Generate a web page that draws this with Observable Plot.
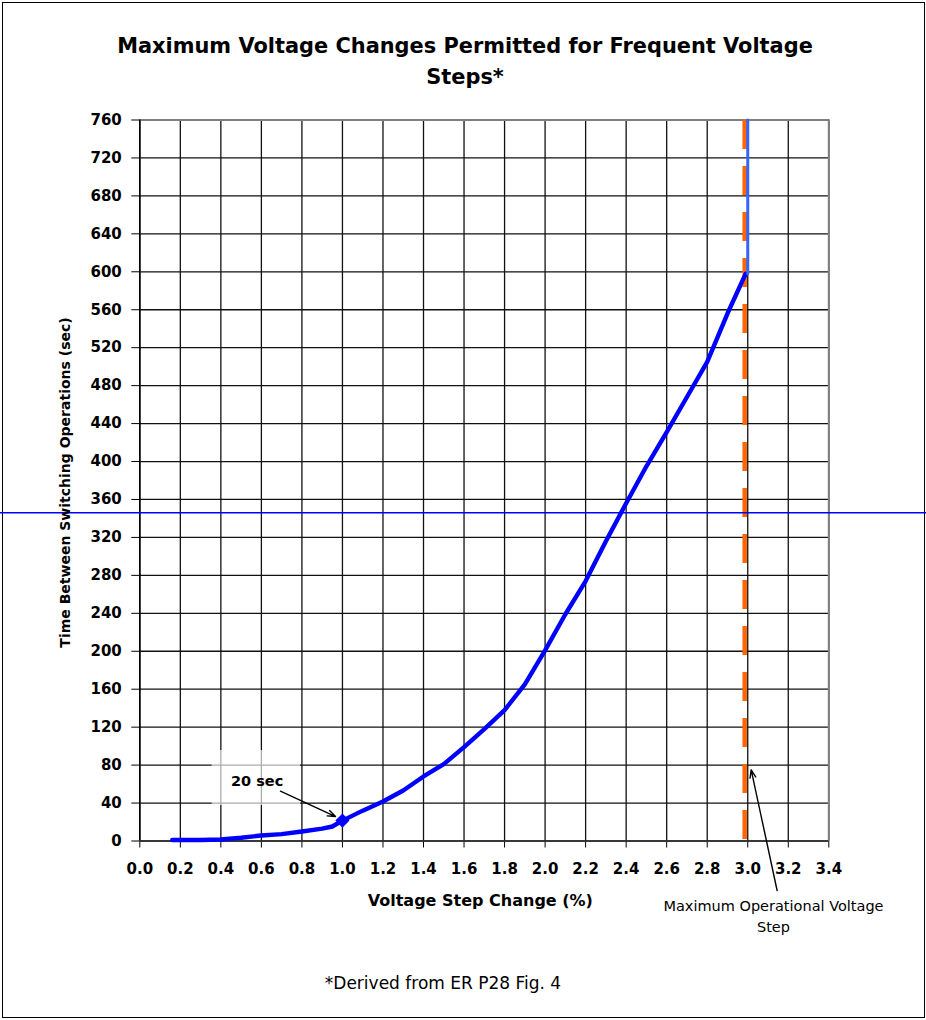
<!DOCTYPE html>
<html><head><meta charset="utf-8">
<script src="https://cdn.jsdelivr.net/npm/d3@7"></script>
<script src="https://cdn.jsdelivr.net/npm/@observablehq/plot@0.6"></script>
<style>
html,body{margin:0;padding:0;background:#fff;}
#page{position:relative;width:926px;height:1020px;overflow:hidden;font-family:"DejaVu Sans",sans-serif;color:#000;}
#frame{position:absolute;left:2px;top:2px;width:923px;height:1016px;border:1px solid #000;box-sizing:border-box;}
#title{position:absolute;left:0;top:31px;width:930px;text-align:center;font-weight:bold;font-size:20.9px;line-height:31px;}
#chart{position:absolute;left:0;top:100px;}
#caption{position:absolute;left:0;top:973px;width:886px;text-align:center;font-size:17px;line-height:20px;}
</style></head>
<body>
<div id="page">
  <div id="frame"></div>
  <div id="title">Maximum Voltage Changes Permitted for Frequent Voltage<br>Steps*</div>
  <div id="chart"></div>
  <div id="caption">*Derived from ER P28 Fig. 4</div>
</div>
<script>
// ---- data ----
const stepPct = [0.16, 0.3, 0.4, 0.5, 0.6, 0.7, 0.8, 0.9, 0.95, 1.0, 1.1, 1.2, 1.3, 1.4, 1.5, 1.6, 1.7, 1.8, 1.9, 2.0, 2.1, 2.2, 2.3, 2.4, 2.5, 2.6, 2.7, 2.8, 2.9, 2.99];
const timeSec = [1, 1, 1.6, 3.4, 5.8, 7.2, 10, 13, 15.3, 21.5, 32, 41.6, 53.2, 68, 81, 99, 118, 138, 165, 201, 239, 274, 316, 356, 395, 431, 468, 505, 556, 598];
const xTicks = [0, 0.2, 0.4, 0.6, 0.8, 1.0, 1.2, 1.4, 1.6, 1.8, 2.0, 2.2, 2.4, 2.6, 2.8, 3.0, 3.2, 3.4];
const yTicks = [0, 40, 80, 120, 160, 200, 240, 280, 320, 360, 400, 440, 480, 520, 560, 600, 640, 680, 720, 760];
const maxStepX = 2.985;          // orange dashed "Maximum Operational Voltage Step"
const capX = 3.0;                // vertical continuation of curve
const capY = [598, 760];
const refLineY = 346;            // horizontal blue reference line
const marker = [{x: 1.0, y: 21.5}];
const noteBox = [{x1: 0.357, x2: 0.793, y1: 37.4, y2: 95.4}];
const notes = [{x: 0.579, y: 62.8, text: "20 sec"}];
const sideNotes = [{x: 3.127, y: -74.3, text: "Maximum Operational Voltage"}, {x: 3.127, y: -96.4, text: "Step"}];
const arrows = [{x1: 0.694, y1: 52.5, x2: 0.966, y2: 25.8}, {x1: 3.145, y1: -52.2, x2: 3.017, y2: 75}];
const xLabel = "Voltage Step Change (%)";
const yLabel = "Time Between Switching Operations (sec)";

const curve = stepPct.map((x, i) => ({x, y: timeSec[i]}));
const dashed = [{x: maxStepX, y: 760}, {x: maxStepX, y: 0}];
const cap = capY.map(y => ({x: capX, y}));

const chart = Plot.plot({
  width: 926, height: 920,
  marginLeft: 139.3, marginRight: 97.7, marginTop: 19.5, marginBottom: 179.5,
  style: {fontFamily: "DejaVu Sans", fontSize: "15px", fontWeight: "bold", background: "transparent", overflow: "visible", color: "#000"},
  x: {domain: [0, 3.4], ticks: xTicks, tickFormat: d3.format(".1f"), tickSize: 7, tickPadding: 15, label: null},
  y: {domain: [0, 760], ticks: yTicks, tickFormat: d => String(d), tickSize: 8, tickPadding: 10, label: null},
  marks: [
    Plot.ruleX(xTicks, {stroke: "#111", strokeWidth: 1.3}),
    Plot.ruleY(yTicks, {stroke: "#111", strokeWidth: 1.3}),
    Plot.ruleY([760], {stroke: "#808080", strokeWidth: 2}),
    Plot.ruleX([3.4], {stroke: "#808080", strokeWidth: 2}),
    Plot.ruleX([0], {stroke: "#000", strokeWidth: 1.5}),
    Plot.ruleY([0], {stroke: "#333", strokeWidth: 1.5}),
    Plot.rect(noteBox, {x1: "x1", x2: "x2", y1: "y1", y2: "y2", fill: "white", fillOpacity: 0.65}),
    Plot.line(dashed, {x: "x", y: "y", stroke: "#FF6600", strokeWidth: 4.5, strokeDasharray: "29,17", strokeLinecap: "butt"}),
    Plot.line(curve, {x: "x", y: "y", stroke: "#0000FF", strokeWidth: 4.4, strokeLinejoin: "round"}),
    Plot.line(cap, {x: "x", y: "y", stroke: "#3366FF", strokeWidth: 3}),
    Plot.dot(marker, {x: "x", y: "y", symbol: "diamond2", r: 5.4, fill: "#0000FF", stroke: "#0000FF"}),
    Plot.ruleY([refLineY], {x1: -0.7, x2: 3.9, stroke: "#0000FF", strokeWidth: 1.5}),
    Plot.arrow(arrows, {x1: "x1", y1: "y1", x2: "x2", y2: "y2", stroke: "#000", strokeWidth: 1.4, headLength: 9, headAngle: 40}),
    Plot.text(notes, {x: "x", y: "y", text: "text", fontSize: 14.5, fontWeight: "bold", fill: "#000"}),
    Plot.text(sideNotes, {x: "x", y: "y", text: "text", lineAnchor: "bottom", fontSize: 14.5, fontWeight: "normal", fill: "#000"}),
    Plot.text([xLabel], {text: d => d, frameAnchor: "bottom", textAnchor: "middle", lineAnchor: "bottom", dx: -4, dy: 64.5, fontSize: 16, fontWeight: "bold", fill: "#000"}),
    Plot.text([yLabel], {text: d => d, frameAnchor: "left", textAnchor: "middle", lineAnchor: "middle", rotate: -90, dx: -74, dy: 2, fontSize: 14, fontWeight: "bold", fill: "#000"})
  ]
});
document.getElementById("chart").appendChild(chart);
</script>
</body></html>
